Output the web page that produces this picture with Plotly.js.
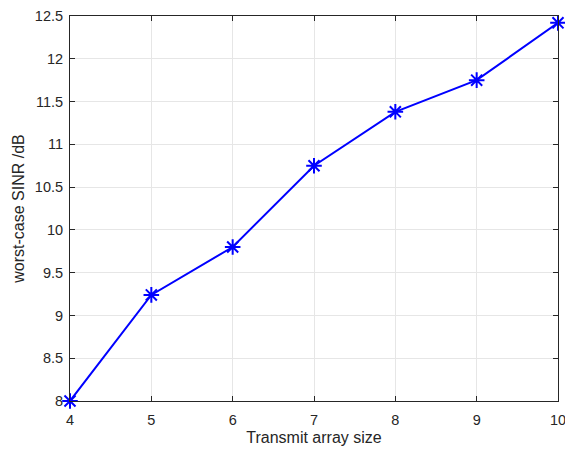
<!DOCTYPE html>
<html>
<head>
<meta charset="utf-8">
<script src="https://cdn.plot.ly/plotly-3.0.1.min.js"></script>
<style>html,body{margin:0;padding:0;background:#fff;}#chart{width:565px;height:450px;}</style>
</head>
<body>
<div id="chart"></div>
<script>
const arraySize = [4, 5, 6, 7, 8, 9, 10];
const sinr = [8.0, 9.24, 9.8, 10.75, 11.38, 11.75, 12.42];
const xTicks = [4, 5, 6, 7, 8, 9, 10];
const yTicks = [8, 8.5, 9, 9.5, 10, 10.5, 11, 11.5, 12, 12.5];

const FONT = 'Liberation Sans, Arial, sans-serif';
const trace = {
  x: arraySize, y: sinr, type: 'scatter', mode: 'lines+markers',
  line: {color: '#0000ff', width: 2},
  marker: {symbol: 'asterisk-open', size: 13, color: '#0000ff', line: {color: '#0000ff', width: 2}},
  cliponaxis: false, showlegend: false
};
const axisCommon = {
  showline: true, mirror: 'ticks', linecolor: '#262626', linewidth: 1,
  ticks: 'inside', ticklen: 5, tickcolor: '#262626',
  showgrid: true, gridcolor: '#e6e6e6', gridwidth: 1, zeroline: false,
  ticklabeloverflow: 'allow',
  tickfont: {family: FONT, size: 14.5, color: '#262626'}
};
const layout = {
  width: 565, height: 450,
  margin: {l: 70, r: 7, t: 16, b: 49},
  paper_bgcolor: '#fff', plot_bgcolor: '#fff',
  xaxis: Object.assign({}, axisCommon, {
    range: [4, 10], tickvals: xTicks, ticktext: xTicks.map(String),
    ticklabelstandoff: 6,
    title: {text: 'Transmit array size', font: {family: FONT, size: 16, color: '#262626'}, standoff: 4}
  }),
  yaxis: Object.assign({}, axisCommon, {
    range: [8, 12.5], tickvals: yTicks, ticktext: yTicks.map(String),
    ticklabelstandoff: 3,
    title: {text: 'worst-case SINR /dB', font: {family: FONT, size: 16, color: '#262626'}, standoff: 6}
  })
};
Plotly.newPlot('chart', [trace], layout, {displayModeBar: false, staticPlot: true});
</script>
</body>
</html>
